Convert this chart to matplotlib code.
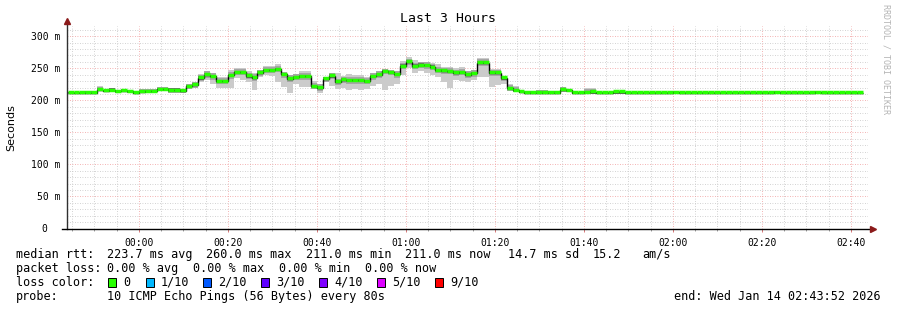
import numpy as np
import matplotlib
matplotlib.use("Agg")
import matplotlib.pyplot as plt

# smokeping data, 80 s steps, time in minutes relative to 00:00
step_min = 80 / 60.0
first_sample = -16.0
view_start, view_end = -16.13, 163.87

median = [212, 212, 212, 212, 212, 216.5, 215, 216, 214, 215,
          214, 211.5, 213, 214, 214, 217, 217.5, 216, 216, 215,
          222, 224.5, 235, 240, 237.5, 230, 230, 239, 244, 244,
          238, 235.5, 243, 247, 247, 248.5, 240.5, 234, 236, 237.5,
          237.5, 222, 220, 234, 238, 229, 232, 231, 231, 231,
          230, 237.5, 240, 245.5, 244, 240.5, 253.5, 260, 253.5, 255,
          254.5, 252, 247, 246, 245.5, 243, 244, 240, 242, 259,
          259, 243, 243, 235, 219, 215.5, 213.5, 212, 212, 212,
          212, 212, 212, 216.5, 215.5, 212, 212, 212.5, 213, 212,
          212, 212, 213, 213, 212, 212, 212, 212, 212, 211.5,
          211.5, 211.5, 212.5, 211.5, 211.5, 211.5, 211.5, 211.5, 211.5, 211.5,
          211.5, 211.5, 211.5, 211.5, 211.5, 211.5, 211.5, 211.5, 211.5, 212.5,
          211.5, 211.5, 211.5, 211.5, 211.5, 211.5, 212.5, 211.5, 211.5, 211.5,
          211.5, 211.5, 211.5, 211.5]
smoke_hi = [213, 213, 213, 214, 214, 222, 216, 219, 216, 217,
            216, 213, 218, 218, 218, 221, 221, 220, 220, 218,
            226, 229, 241, 246, 242, 236, 236, 248, 250, 250,
            246, 242, 248, 254, 254, 256, 244, 239, 241, 245,
            245, 230, 226, 237, 242, 242, 238, 241, 240, 239,
            236, 242, 245, 249, 248, 246, 262, 268, 263, 260,
            260, 258, 257, 252, 252, 250, 252, 246, 248, 266,
            266, 249, 249, 238, 226, 223, 216, 214, 214, 216,
            216, 214, 214, 221, 218, 213, 213, 220, 220, 213,
            213, 213, 214, 214, 213, 213, 213, 213, 213, 213,
            213, 213, 214, 213, 213, 213, 213, 213, 213, 213,
            213, 213, 213, 213, 213, 213, 213, 213, 213, 214,
            213, 213, 213, 213, 213, 213, 214, 213, 213, 213,
            213, 213, 213, 213]
smoke_lo = [211, 211, 211, 211, 211, 214, 213, 213, 212, 213,
            212, 210, 211, 212, 212, 214, 214, 212, 212, 212,
            218, 220, 229, 232, 225, 220, 220, 220, 235, 231,
            228, 216, 236, 240, 238, 229, 221, 212, 225, 221,
            221, 218, 212, 229, 223, 218, 220, 216, 218, 216,
            218, 222, 225, 216, 222, 226, 240, 250, 242, 245,
            243, 240, 237, 229, 220, 232, 230, 228, 232, 237,
            237, 221, 224, 226, 215, 213, 212, 211, 211, 211,
            211, 211, 211, 213, 213, 210.5, 210.5, 210.5, 210.5, 210.5,
            210.5, 210.5, 210.5, 210.5, 210.5, 210.5, 210.5, 210.5, 210.5, 210.5,
            210.5, 210.5, 210.5, 210.5, 210.5, 210.5, 210.5, 210.5, 210.5, 210.5,
            210.5, 210.5, 210.5, 210.5, 210.5, 210.5, 210.5, 210.5, 210.5, 210.5,
            210.5, 210.5, 210.5, 210.5, 210.5, 210.5, 210.5, 210.5, 210.5, 210.5,
            210.5, 210.5, 210.5, 210.5]

time_ticks = [0, 20, 40, 60, 80, 100, 120, 140, 160]
time_labels = ["00:00", "00:20", "00:40", "01:00", "01:20",
               "01:40", "02:00", "02:20", "02:40"]
y_ticks = [0, 50, 100, 150, 200, 250, 300]
y_labels = ["0  ", "50 m", "100 m", "150 m", "200 m", "250 m", "300 m"]

legend_rows = [
    ["median rtt:", "223.7 ms avg", "260.0 ms max", "211.0 ms min",
     "211.0 ms now", "14.7 ms sd", "15.2", "am/s"],
    ["packet loss:", "0.00 % avg", "0.00 % max", "0.00 % min", "0.00 % now"],
]
legend_x = [[16, 107, 206, 306, 405, 508, 593, 642],
            [16, 107, 193, 279, 365]]
loss_names = ["0", "1/10", "2/10", "3/10", "4/10", "5/10", "9/10"]
loss_colors = ["#26ff00", "#00b8ff", "#0059ff", "#5e00ff", "#7e00ff", "#dd00ff", "#ff0000"]
loss_box_x = [108, 146, 203, 261, 319, 377, 435]

MONO = "DejaVu Sans Mono"
LEG_FS = 8.5
W, H = 897, 310

med = np.array(median, dtype=float)
hi = np.array(smoke_hi, dtype=float)
lo = np.array(smoke_lo, dtype=float)
edges = first_sample + np.arange(len(med) + 1) * step_min

fig = plt.figure(figsize=(W / 100, H / 100), dpi=100)
fig.patch.set_facecolor("white")
ax = fig.add_axes([67 / W, 1 - 228.5 / H, (868 - 67) / W, (228.5 - 26) / H])
ax.set_xlim(view_start, view_end)
ax.set_ylim(0, 316)

# grid
ax.set_xticks(time_ticks)
ax.set_xticks(np.arange(-15, 165, 5), minor=True)
ax.set_yticks(y_ticks)
ax.set_yticks(np.arange(0, 316, 10), minor=True)
ax.grid(which="minor", color="#c4c4c4", linestyle=(0, (1, 2)), linewidth=0.6)
ax.grid(which="major", color="#f09a9a", linestyle=(0, (1, 2)), linewidth=0.6)
ax.set_axisbelow(True)

# smoke
ax.stairs(hi, edges, baseline=lo, fill=True, color="#cbcbcb", lw=0)
ax.stairs(np.clip(med + 5, lo, hi), edges, baseline=np.clip(med - 5, lo, hi),
          fill=True, color="#a6a6a6", lw=0)
ax.stairs(np.clip(med + 2.5, lo, hi), edges, baseline=np.clip(med - 2.5, lo, hi),
          fill=True, color="#6e6e6e", lw=0)

# median line
ax.stairs(med, edges, baseline=None, color="black", lw=1.0)
ax.hlines(med + 0.8, edges[:-1], edges[1:], color=loss_colors[0], lw=2.5,
          capstyle="butt")

for s in ax.spines.values():
    s.set_visible(False)
ax.plot([0, 0], [0, 1.02], color="#303030", lw=1, transform=ax.transAxes, clip_on=False)
ax.plot([-0.006, 1.004], [0, 0], color="black", lw=1, transform=ax.transAxes, clip_on=False)
ax.plot([0], [1.025], marker="^", ms=4.5, color="#8b1a1a", transform=ax.transAxes, clip_on=False)
ax.plot([1.006], [0], marker=">", ms=4.5, color="#8b1a1a", transform=ax.transAxes, clip_on=False)

ax.set_xticklabels(time_labels, family=MONO, fontsize=7)
ax.set_yticklabels(y_labels, family=MONO, fontsize=7)
ax.tick_params(axis="x", which="major", direction="out", length=2.5, width=0.6, pad=4, color="#d06060")
ax.tick_params(axis="x", which="minor", direction="out", length=1.5, width=0.6, color="#909090")
ax.tick_params(axis="y", which="both", length=0, pad=5)
ax.set_ylabel("Seconds", fontsize=8, family="DejaVu Sans")
ax.yaxis.set_label_coords(-0.063, 0.5)

fig.text(448 / W, 1 - 19 / H, "Last 3 Hours", family=MONO, fontsize=9.5,
         ha="center", va="center")
fig.text(886 / W, 1 - 59 / H, "RRDTOOL / TOBI OETIKER", family=MONO, fontsize=6,
         rotation=270, ha="center", va="center", color="#b4b4b4")

# legend lines
row_y = [254.3, 268.3, 282.3, 296.3]
for texts, xs, yy in zip(legend_rows, legend_x, row_y):
    for t, xx in zip(texts, xs):
        fig.text(xx / W, 1 - yy / H, t, family=MONO, fontsize=LEG_FS, va="center")

fig.text(16 / W, 1 - row_y[2] / H, "loss color:", family=MONO, fontsize=LEG_FS, va="center")
for name, col, bx in zip(loss_names, loss_colors, loss_box_x):
    fig.patches.append(plt.Rectangle((bx / W, 1 - (row_y[2] + 4.5) / H), 8 / W, 9 / H,
                                     transform=fig.transFigure, facecolor=col,
                                     edgecolor="black", lw=0.7))
    fig.text((bx + 15) / W, 1 - row_y[2] / H, name, family=MONO, fontsize=LEG_FS, va="center")

fig.text(16 / W, 1 - row_y[3] / H, "probe:", family=MONO, fontsize=LEG_FS, va="center")
fig.text(107 / W, 1 - row_y[3] / H, "10 ICMP Echo Pings (56 Bytes) every 80s",
         family=MONO, fontsize=LEG_FS, va="center")
fig.text(881 / W, 1 - row_y[3] / H, "end: Wed Jan 14 02:43:52 2026",
         family=MONO, fontsize=LEG_FS, va="center", ha="right")

fig.savefig("out.png", dpi=100)
